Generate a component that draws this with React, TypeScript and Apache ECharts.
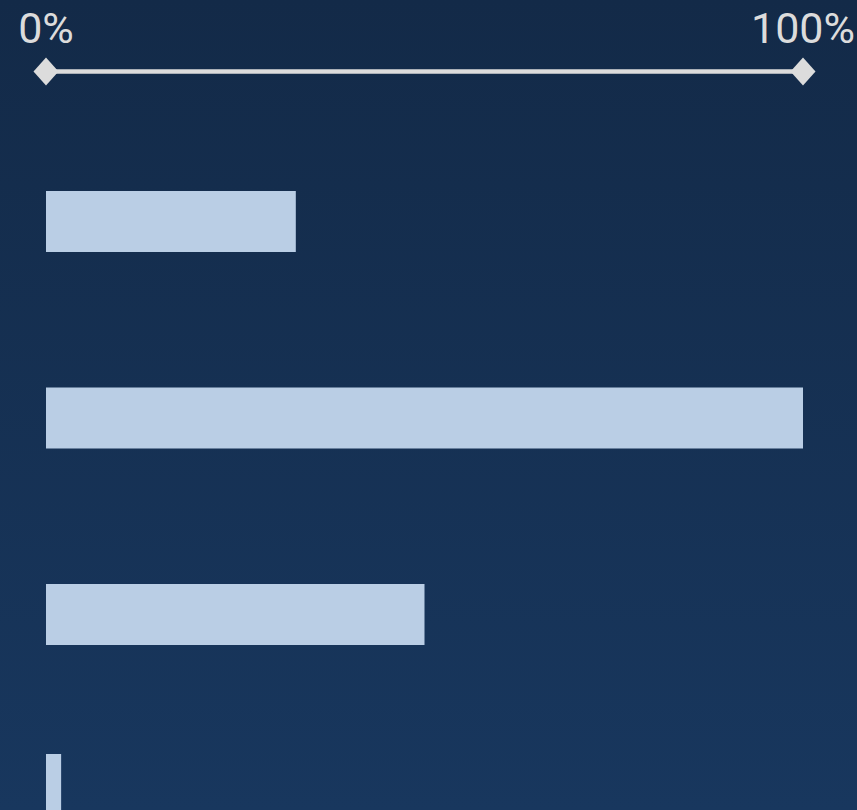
import React, { useEffect, useRef } from "react";
import * as echarts from "echarts";

const categories = ["Item 1", "Item 2", "Item 3", "Item 4"];
const mainValues: (number | string)[] = [33, 100, 50, "-"];
const lastValues: (number | string)[] = ["-", "-", "-", 2];
const axisMin = 0;
const axisMax = 100;

export default function App() {
  const ref = useRef<HTMLDivElement>(null);
  useEffect(() => {
    document.body.style.margin = "0";
    const chart = echarts.init(ref.current!, undefined, { renderer: "svg" });
    const textColor = "#dcdcdc";
    chart.setOption({
      animation: false,
      backgroundColor: {
        type: "linear",
        x: 0,
        y: 0,
        x2: 0,
        y2: 1,
        colorStops: [
          { offset: 0, color: "#132a48" },
          { offset: 1, color: "#18375e" },
        ],
      },
      grid: {
        left: 46,
        right: 54,
        top: 123.25,
        height: 786,
        containLabel: false,
        outerBoundsMode: "none",
      },
      xAxis: {
        type: "value",
        position: "top",
        min: axisMin,
        max: axisMax,
        interval: 100,
        offset: 51.75,
        splitLine: { show: false },
        axisTick: { show: false },
        axisLine: {
          show: true,
          symbol: ["diamond", "diamond"],
          symbolSize: [28, 25],
          lineStyle: { color: textColor, width: 4.5 },
        },
        axisLabel: {
          formatter: "{value}%",
          fontSize: 43,
          color: textColor,
          fontFamily: "Roboto, 'Liberation Sans', sans-serif",
          margin: 22,
        },
      },
      yAxis: [
        { type: "category", data: categories, inverse: true, show: false },
        { type: "category", data: categories, inverse: true, show: false },
      ],
      series: [
        {
          type: "bar",
          yAxisIndex: 0,
          data: mainValues,
          barWidth: 61,
          itemStyle: { color: "#bacee5" },
        },
        {
          type: "bar",
          yAxisIndex: 1,
          data: lastValues,
          barWidth: 114,
          itemStyle: { color: "#bacee5" },
        },
      ],
    });
    return () => chart.dispose();
  }, []);
  return <div ref={ref} style={{ width: 857, height: 810 }} />;
}
